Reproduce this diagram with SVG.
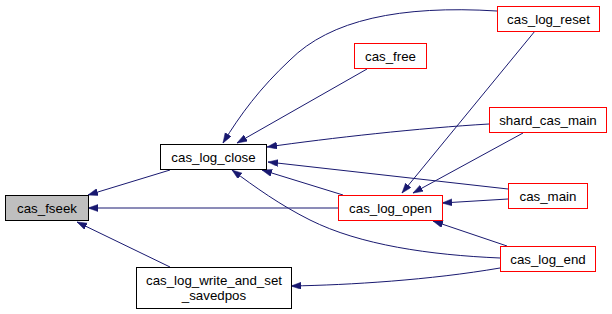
<svg xmlns="http://www.w3.org/2000/svg" width="612" height="314" viewBox="0 0 612 314">
  <style>
    .node rect { fill: #ffffff; stroke: #000000; stroke-width: 1; }
    .node.ext rect { stroke: #ff0000; }
    .node.cur rect { fill: #bfbfbf; }
    .node text { font-family: "Liberation Sans", Arial, sans-serif; font-size: 13.3px; fill: #000000; text-anchor: middle; }
    .edges path { fill: none; stroke: #191970; stroke-width: 1; marker-end: url(#arrow); }
  </style>
  <defs>
    <marker id="arrow" markerUnits="userSpaceOnUse" markerWidth="11" markerHeight="8" refX="10" refY="3.5" orient="auto">
      <path d="M0,0 L10,3.5 L0,7 Z" fill="#191970" stroke="#191970" stroke-width="0.5"/>
    </marker>
  </defs>
  <rect width="612" height="314" fill="#ffffff"/>

  <g class="edges">
    <path d="M170,170 L88,195"/>
    <path d="M338,208 L88,208"/>
    <path d="M170,267 L77,222"/>
    <path d="M497,11 C400,5 330,20 290,60 C260,88 240,115 223,143"/>
    <path d="M367,69 L237,143"/>
    <path d="M489,124 C420,128 330,138 267,147"/>
    <path d="M508,189 L268,162"/>
    <path d="M343,195 L262,170"/>
    <path d="M500,258 C430,255 360,245 310,220 C280,205 255,187 232,170"/>
    <path d="M535,31 L402,193"/>
    <path d="M523,133 L413,193"/>
    <path d="M508,199 L442,203"/>
    <path d="M507,246 L433,221"/>
    <path d="M500,268 C430,280 350,285 291,286"/>
  </g>

  <g id="cas_fseek" class="node cur">
    <rect x="5.5" y="195.5" width="83" height="25"/>
    <text x="47" y="212.5">cas_fseek</text>
  </g>
  <g id="cas_log_close" class="node">
    <rect x="160.5" y="144.5" width="106" height="25"/>
    <text x="213.5" y="161.5">cas_log_close</text>
  </g>
  <g id="cas_log_write_and_set_savedpos" class="node">
    <rect x="136.5" y="267.5" width="155" height="41"/>
    <text x="214" y="284.5">cas_log_write_and_set</text>
    <text x="214" y="299.5">_savedpos</text>
  </g>
  <g id="cas_log_reset" class="node ext">
    <rect x="497.5" y="6.5" width="102" height="25"/>
    <text x="548.5" y="23.5">cas_log_reset</text>
  </g>
  <g id="cas_free" class="node ext">
    <rect x="354.5" y="43.5" width="72" height="25"/>
    <text x="390.5" y="60.5">cas_free</text>
  </g>
  <g id="shard_cas_main" class="node ext">
    <rect x="489.5" y="107.5" width="117" height="25"/>
    <text x="548" y="124.5">shard_cas_main</text>
  </g>
  <g id="cas_log_open" class="node ext">
    <rect x="338.5" y="195.5" width="104" height="25"/>
    <text x="390.5" y="212.5">cas_log_open</text>
  </g>
  <g id="cas_main" class="node ext">
    <rect x="508.5" y="183.5" width="79" height="25"/>
    <text x="548" y="200.5">cas_main</text>
  </g>
  <g id="cas_log_end" class="node ext">
    <rect x="500.5" y="246.5" width="95" height="25"/>
    <text x="548" y="263.5">cas_log_end</text>
  </g>
</svg>
